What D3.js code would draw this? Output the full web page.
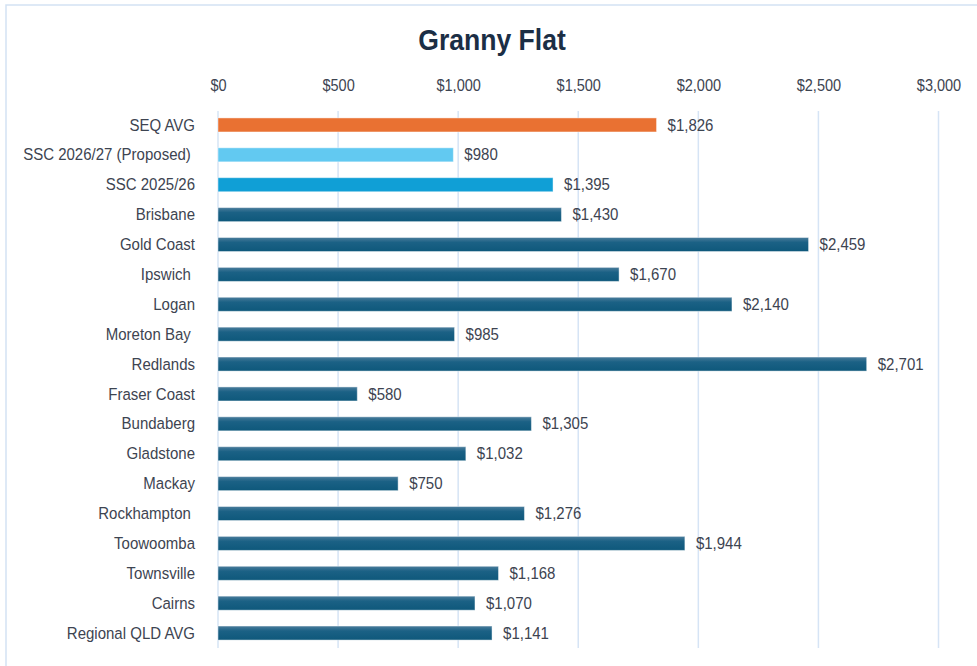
<!DOCTYPE html>
<html>
<head>
<meta charset="utf-8">
<script src="https://cdn.jsdelivr.net/npm/d3@7"></script>
<style>
  body { margin: 0; background: #fff; }
  svg { display: block; }
  text { white-space: pre; }
</style>
</head>
<body>
<div id="chart"></div>
<script>
'use strict';

// chart data (some source labels carry a trailing space)
const title = "Granny Flat";
const categories = [
    "SEQ AVG", "SSC 2026/27 (Proposed) ", "SSC 2025/26", "Brisbane", "Gold Coast",
    "Ipswich ", "Logan", "Moreton Bay ", "Redlands", "Fraser Coast", "Bundaberg",
    "Gladstone", "Mackay", "Rockhampton ", "Toowoomba", "Townsville", "Cairns",
    "Regional QLD AVG"
];
const values = [
    1826, 980, 1395, 1430, 2459, 1670, 2140, 985, 2701, 580, 1305,
    1032, 750, 1276, 1944, 1168, 1070, 1141
];
const barKinds = [
    "avg", "proposed", "current", "council", "council", "council", "council",
    "council", "council", "council", "council", "council", "council", "council",
    "council", "council", "council", "council"
];
const tickValues = [0, 500, 1000, 1500, 2000, 2500, 3000];

const width = 977, height = 666;
const fontFamily = "'Liberation Sans', Arial, sans-serif";
const labelColor = "#3d4451";
const gridColor = "#d6e4f5";
// the source font is a condensed one, so squeeze the text a bit
const narrow = "scale(0.91,1)";

const fills = {
    avg: "#e97132",
    proposed: "#62c9f1",
    current: "#109fd6",
    council: "url(#councilGrad)"
};

const svg = d3.select("#chart").append("svg")
    .attr("width", width)
    .attr("height", height);

// gradient for the council bars
const grad = svg.append("defs").append("linearGradient")
    .attr("id", "councilGrad")
    .attr("x1", 0).attr("y1", 0).attr("x2", 0).attr("y2", 1);
grad.append("stop").attr("offset", "0%").attr("stop-color", "#4b7d9c");
grad.append("stop").attr("offset", "35%").attr("stop-color", "#1b6185");
grad.append("stop").attr("offset", "100%").attr("stop-color", "#0e587b");

// outer frame, runs off the right and bottom edges
svg.append("rect")
    .attr("x", 6).attr("y", 5)
    .attr("width", width + 20).attr("height", height + 20)
    .attr("fill", "none")
    .attr("stroke", "#d3e2f3")
    .attr("stroke-width", 1.5);

const x = d3.scaleLinear().domain([0, 3000]).range([218, 938.5]);
const y = d3.scaleBand()
    .domain(categories)
    .range([110, 648])
    .paddingInner(0.53)
    .paddingOuter(0.265);

// title
svg.append("text")
    .attr("transform", "translate(492,50) scale(0.885,1)")
    .attr("text-anchor", "middle")
    .attr("font-family", fontFamily)
    .attr("font-weight", "bold")
    .attr("font-size", 30)
    .attr("fill", "#1b2e45")
    .text(title);

// gridlines
svg.append("g").selectAll("line")
    .data(tickValues)
    .join("line")
    .attr("x1", d => x(d)).attr("x2", d => x(d))
    .attr("y1", 111).attr("y2", 648)
    .attr("stroke", gridColor)
    .attr("stroke-width", 1.5);

// top axis tick labels
const axis = svg.append("g")
    .attr("transform", "translate(0,91)")
    .call(d3.axisTop(x).tickValues(tickValues).tickSize(0).tickPadding(0)
        .tickFormat(d => "$" + d3.format(",")(d)));
axis.select(".domain").remove();
axis.selectAll("text")
    .attr("font-family", fontFamily)
    .attr("font-size", 16.5)
    .attr("fill", labelColor)
    .attr("dy", 0)
    .attr("transform", "scale(0.88,1)");

// category labels
const yAxis = svg.append("g")
    .attr("transform", "translate(195,0)")
    .call(d3.axisLeft(y).tickSize(0).tickPadding(0));
yAxis.select(".domain").remove();
yAxis.selectAll("text")
    .attr("font-family", fontFamily)
    .attr("font-size", 16.5)
    .attr("fill", labelColor)
    .attr("dy", "0.34em")
    .attr("transform", narrow);

// bars
const rows = categories.map((c, i) => ({cat: c, value: values[i], kind: barKinds[i]}));

svg.append("g").selectAll("rect")
    .data(rows)
    .join("rect")
    .attr("x", x(0))
    .attr("y", d => y(d.cat))
    .attr("width", d => x(d.value) - x(0))
    .attr("height", y.bandwidth())
    .attr("fill", d => fills[d.kind])
    .attr("stroke", "#ffffff")
    .attr("stroke-opacity", 0.45)
    .attr("stroke-width", 1);

// value labels
svg.append("g").selectAll("text")
    .data(rows)
    .join("text")
    .attr("transform", d => `translate(${x(d.value) + 11},${y(d.cat) + y.bandwidth() / 2}) ${narrow}`)
    .attr("dy", "0.34em")
    .attr("font-family", fontFamily)
    .attr("font-size", 16.5)
    .attr("fill", labelColor)
    .text(d => "$" + d3.format(",")(d.value));
</script>
</body>
</html>
